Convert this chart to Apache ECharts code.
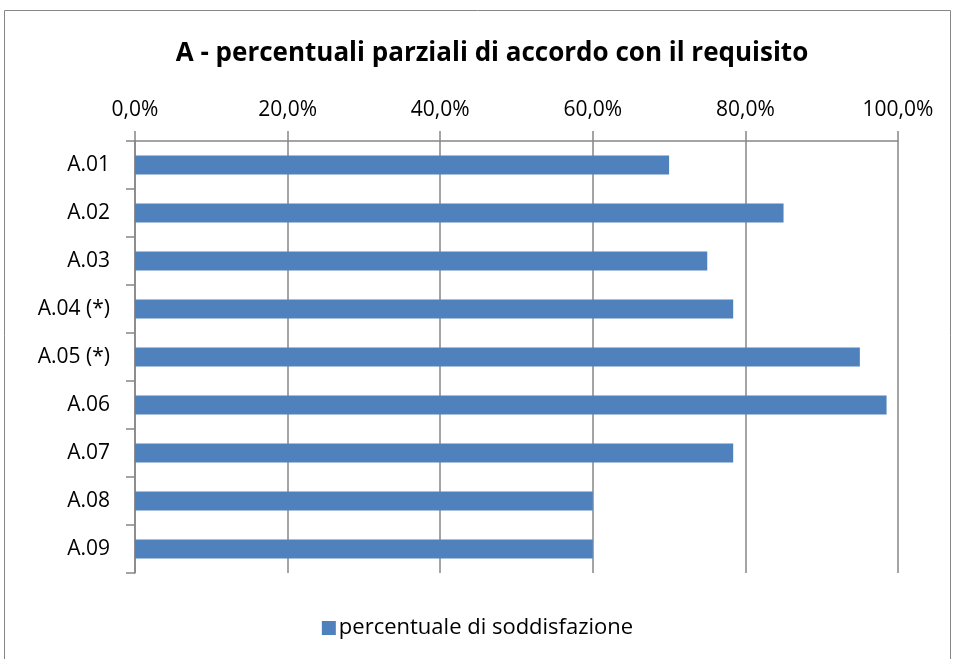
<!DOCTYPE html>
<html>
<head>
<meta charset="utf-8">
<script src="https://cdn.jsdelivr.net/npm/echarts@6/dist/echarts.min.js"></script>
<style>
  html, body { margin: 0; padding: 0; background: #fff; }
  #main { width: 955px; height: 659px; }
</style>
</head>
<body>
<div id="main"></div>
<script>
// dati
const categorie = ['A.01', 'A.02', 'A.03', 'A.04 (*)', 'A.05 (*)', 'A.06', 'A.07', 'A.08', 'A.09']
const percentuali = [70.0, 85.0, 75.0, 78.4, 95.0, 98.5, 78.4, 60.0, 60.0]
const nomeSerie = 'percentuale di soddisfazione'

const font = '"Open Sans", Lato, sans-serif'
const grigio = '#868686'

let myChart = echarts.init(document.getElementById('main'))
let option = {
  backgroundColor: '#fff',
  animation: false,
  title: {
    text: 'A - percentuali parziali di accordo con il requisito',
    left: 487,
    textAlign: 'center',
    top: 36,
    textStyle: { fontFamily: font, fontSize: 26, fontWeight: 'bold', color: '#000' },
  },
  legend: {
    data: [nomeSerie],
    top: 612,
    left: 'center',
    itemWidth: 14,
    itemHeight: 14,
    itemGap: 6,
    icon: 'rect',
    textStyle: { fontFamily: font, fontSize: 22, color: '#000', padding: [0, 0, 0, -2] },
  },
  graphic: [
    {
      type: 'rect',
      shape: { x: 4.5, y: 10.5, width: 946, height: 660 },
      style: { fill: 'none', stroke: grigio, lineWidth: 1 },
      silent: true,
    },
  ],
  grid: { left: 135, right: 57, top: 141, bottom: 86 },
  xAxis: {
    type: 'value',
    position: 'top',
    min: 0,
    max: 100,
    interval: 20,
    axisLine: { show: true, lineStyle: { color: grigio, width: 1.5 } },
    axisTick: { show: true, length: 10, lineStyle: { color: grigio, width: 1.5 } },
    axisLabel: {
      formatter: v => v.toFixed(1).replace('.', ',') + '%',
      fontFamily: font,
      fontSize: 21,
      color: '#000',
      margin: 20,
    },
    splitLine: { show: true, lineStyle: { color: grigio, width: 1.5 } },
  },
  yAxis: {
    type: 'category',
    data: categorie,
    inverse: true,
    axisLine: { show: true, lineStyle: { color: grigio, width: 1.5 } },
    axisTick: { show: true, length: 9, lineStyle: { color: grigio, width: 1.5 } },
    axisLabel: { fontFamily: font, fontSize: 21, color: '#000', margin: 25 },
  },
  series: [
    {
      name: nomeSerie,
      type: 'bar',
      data: percentuali,
      barWidth: 19,
      itemStyle: { color: '#4F81BD' },
    },
  ],
}
myChart.setOption(option)
</script>
</body>
</html>
